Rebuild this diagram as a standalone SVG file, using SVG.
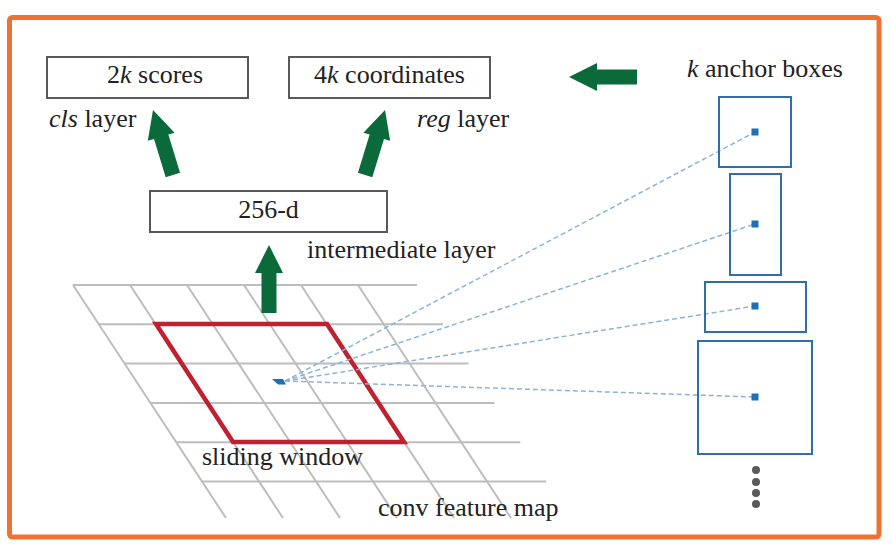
<svg xmlns="http://www.w3.org/2000/svg" width="892" height="554" viewBox="0 0 892 554">
<defs>
<style>
.lbl{font-family:"Liberation Serif","Times New Roman",serif;font-size:26px;fill:#222}
.box{fill:#fff;stroke:#595959;stroke-width:2}
.anc{fill:none;stroke:#2f6eab;stroke-width:2}
.dot{fill:#1f6fb5}
.grid line{stroke:#bdbdbd;stroke-width:2}
.dash{stroke:#8db3da;stroke-width:1.5;stroke-dasharray:5 3;fill:none}
.garrow{fill:#0b6a3a}
</style>
<polygon id="arr" points="0,0 14,28 7.5,28 7.5,68 -7.5,68 -7.5,28 -14,28"/>
</defs>
<rect x="0" y="0" width="892" height="554" fill="#fff"/>
<rect x="9.5" y="17.5" width="869.5" height="519.5" rx="3" fill="#fff" stroke="#ef7134" stroke-width="5"/>

<g id="feature-map" class="grid">
<line x1="73" y1="285" x2="417" y2="285"/>
<line x1="99" y1="324.3" x2="443" y2="324.3"/>
<line x1="124.6" y1="363.6" x2="468.6" y2="363.6"/>
<line x1="150.5" y1="402.9" x2="494.5" y2="402.9"/>
<line x1="176.3" y1="442.2" x2="520.3" y2="442.2"/>
<line x1="202.1" y1="481.5" x2="546.1" y2="481.5"/>
<line x1="73" y1="285" x2="226" y2="518"/>
<line x1="130" y1="285" x2="283" y2="518"/>
<line x1="187" y1="285" x2="340" y2="518"/>
<line x1="244" y1="285" x2="397" y2="518"/>
<line x1="301" y1="285" x2="454" y2="518"/>
<line x1="358" y1="285" x2="511" y2="518"/>
</g>

<g id="sliding-window">
<polygon points="156,324 327,324 404,442 233,442" fill="none" stroke="#c0202f" stroke-width="4.5" stroke-linejoin="miter"/>
<polygon points="272,379 283,379 286,384.5 278,384.5" fill="#1f6fb5"/>
<text class="lbl" x="202" y="465">sliding window</text>
</g>
<text id="conv-label" class="lbl" x="378" y="516">conv feature map</text>

<g id="connectors">
<use href="#arr" class="garrow" transform="translate(269,245)"/>
<use href="#arr" class="garrow" transform="translate(153,110) rotate(-17)"/>
<use href="#arr" class="garrow" transform="translate(385,110) rotate(17)"/>
<use href="#arr" class="garrow" transform="translate(569,77) rotate(-90)"/>
<line class="dash" x1="285" y1="381" x2="755" y2="132"/>
<line class="dash" x1="285" y1="381" x2="755" y2="224"/>
<line class="dash" x1="285" y1="381" x2="755" y2="306"/>
<line class="dash" x1="285" y1="381" x2="755" y2="397"/>
</g>

<g id="cls-node">
<rect class="box" x="47" y="57" width="201" height="41"/>
<text class="lbl" x="107" y="83">2<tspan font-style="italic">k</tspan> scores</text>
<text class="lbl" x="49" y="127"><tspan font-style="italic">cls</tspan> layer</text>
</g>
<g id="reg-node">
<rect class="box" x="289" y="57" width="201" height="41"/>
<text class="lbl" x="389.5" y="83" text-anchor="middle">4<tspan font-style="italic">k</tspan> coordinates</text>
<text class="lbl" x="417" y="127"><tspan font-style="italic">reg</tspan> layer</text>
</g>
<g id="intermediate-node">
<rect class="box" x="150" y="191" width="237" height="41"/>
<text class="lbl" x="268.5" y="218" text-anchor="middle">256-d</text>
<text class="lbl" x="307" y="258">intermediate layer</text>
</g>

<g id="anchors">
<text class="lbl" x="687" y="77"><tspan font-style="italic">k</tspan> anchor boxes</text>
<rect class="anc" x="719" y="97" width="72" height="70"/>
<rect class="dot" x="751.5" y="128.5" width="7" height="7"/>
<rect class="anc" x="730" y="174" width="51" height="101"/>
<rect class="dot" x="751.5" y="220.5" width="7" height="7"/>
<rect class="anc" x="705" y="282" width="101" height="50"/>
<rect class="dot" x="751.5" y="302.5" width="7" height="7"/>
<rect class="anc" x="698" y="341" width="114" height="113"/>
<rect class="dot" x="751.5" y="393.5" width="7" height="7"/>
<g fill="#5a5a5a">
<circle cx="756" cy="470" r="4"/>
<circle cx="756" cy="482" r="4"/>
<circle cx="756" cy="493" r="4"/>
<circle cx="756" cy="504" r="4"/>
</g>
</g>
</svg>
